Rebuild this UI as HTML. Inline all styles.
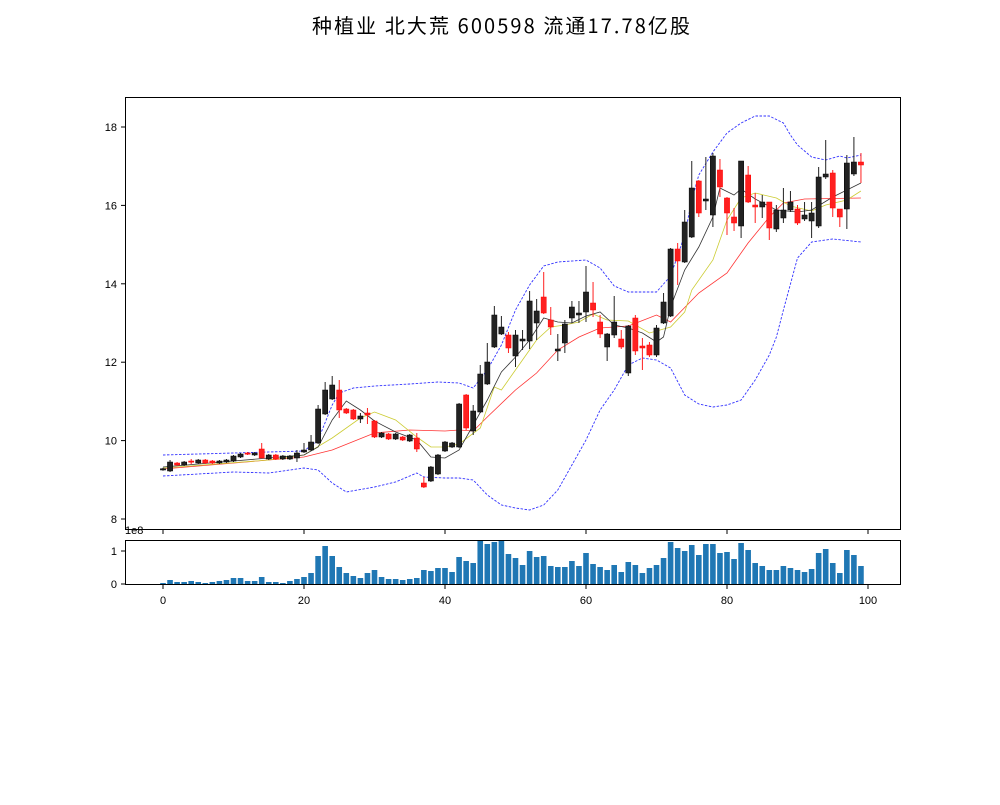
<!DOCTYPE html>
<html><head><meta charset="utf-8"><style>
html,body{margin:0;padding:0;background:#fff;}
svg text{font-family:"Liberation Sans","Noto Sans CJK SC",sans-serif;}
</style></head><body>
<svg id="s" width="1000" height="800" xmlns="http://www.w3.org/2000/svg">
<rect width="1000" height="800" fill="#fff"/>
<text x="312" y="33" font-size="20" fill="#000" textLength="378" lengthAdjust="spacing" style="font-family:'WenQuanYi Zen Hei','Noto Sans CJK SC',sans-serif">种植业 北大荒 600598 流通17.78亿股</text>
<g id="g"></g>
</svg>
<script>
var g=document.getElementById('g'),h='';
function X(i){return 163+i*7.05;}
var C=[
[468.7,470,467.7,470.7,'b'],[462,471,460,472,'b'],[463,465,462,466,'r'],[462,465,461,466,'b'],[461,462,459,464,'r'],
[460,463,459,464,'b'],[460,463,459,464,'r'],[461,463,460,464,'r'],[461,463,460,464,'b'],[460,462,459,463,'b'],
[456,461,455,462,'b'],[454,457,453,458,'b'],[453,454,452,455,'r'],[453,455,452,456,'b'],[449,458,443,458,'r'],
[455,459,454,460,'b'],[455,459,454,460,'r'],[456,459,455,460,'b'],[456,459,455,460,'b'],[453,458,450,462,'b'],
[450,452,443,453,'b'],[442,450,435,451,'b'],[409,443,405,444,'b'],[390,414,382,415,'b'],[385,399,376,400,'b'],
[390,410,380,418,'r'],[409,413,408,414,'r'],[410,419,409,420,'r'],[416,419,413,423,'b'],[413,415,408,424,'r'],
[421,437,420,438,'r'],[433,437,432,438,'b'],[434,439,433,440,'r'],[434,439,433,440,'b'],[437,440,436,441,'r'],
[435,441,434,442,'b'],[438,449,433,452,'r'],[483,487,477,488,'r'],[467,481,466,482,'b'],[455,474,454,475,'b'],
[442,451,441,452,'b'],[443,447,442,448,'b'],[404,447,403,448,'b'],[395,428,394,430,'r'],[411,431,405,435,'b'],
[374,412,365,413,'b'],[362,384,343,385,'b'],[315,347,306,348,'b'],[327,334,316,335,'b'],[335,348,332,353,'r'],
[335,356,330,367,'b'],[339,341,330,350,'b'],[301,341,291,349,'b'],[311,323,299,340,'b'],[297,313,272,314,'r'],
[320,327,307,335,'r'],[349,351,334,361,'b'],[324,343,320,353,'b'],[307,318,301,323,'b'],[313,315,301,323,'b'],
[292,312,266,322,'b'],[303,310,282,317,'r'],[322,334,315,338,'r'],[334,347,333,361,'b'],[322,335,296,338,'b'],
[339,347,330,349,'r'],[326,373,325,376,'b'],[318,351,315,355,'r'],[346,348,338,370,'r'],[345,355,342,357,'r'],
[328,355,325,357,'b'],[302,323,293,324,'b'],[249,316,248,317,'b'],[249,261,243,285,'r'],[222,262,210,263,'b'],
[188,237,161,238,'b'],[181,213,180,217,'r'],[199,201,157,210,'b'],[156,215,153,227,'b'],[170,187,159,197,'r'],
[198,213,197,235,'r'],[217,223,208,231,'r'],[161,226,161,238,'b'],[175,202,166,203,'r'],[205,207,193,223,'r'],
[202,207,195,218,'b'],[202,228,202,240,'r'],[210,229,205,232,'b'],[210,218,188,223,'b'],[202,210,191,212,'b'],
[209,223,205,225,'r'],[215,219,202,221,'b'],[213,221,202,238,'b'],[177,226,167,228,'b'],[174,177,140,179,'b'],
[173,208,170,217,'r'],[209,217,209,227,'r'],[163,209,155,229,'b'],[162,174,137,176,'b'],[162,165,153,183,'r']];
function pl(pts,col,w,dash){var s=pts.map(function(p){return X(p[0]).toFixed(1)+','+p[1];}).join(' ');
return '<polyline points="'+s+'" fill="none" stroke="'+col+'" stroke-width="'+w+'"'+(dash?' stroke-dasharray="'+dash+'"':'')+'/>';}
var up=[[0,455],[10,453],[20,451],[22,440],[24,405],[25,393],[27,388],[30,386],[35,384],[39,382],[42,383],[44,388],[46,370],[48,345],[50,310],[52,285],[54,266],[56,262],[60,260],[62,268],[64,286],[66,292],[70,292],[72,276],[74,235],[75,200],[76,175],[78,152],[80,133],[82,123],[84,116],[86,116],[88,123],[89,135],[90,145],[92,157],[94,160],[96,156],[97,158],[99,155]];
var lo=[[0,476],[10,472],[15,473],[20,468],[22,470],[24,483],[26,492],[30,487],[33,482],[36,473],[37,477],[40,478],[42,478],[44,480],[46,495],[48,505],[50,508],[52,510],[54,505],[56,490],[58,465],[60,440],[62,410],[64,390],[66,365],[68,358],[70,360],[72,368],[74,395],[76,404],[78,407],[80,405],[82,400],[84,380],[86,355],[87,337],[88,310],[90,258],[92,242],[95,239],[99,242]];
var m5=[[0,467],[10,461],[15,458],[20,455],[22,447],[24,420],[26,401],[28,410],[30,421],[33,432],[36,440],[38,457],[40,458],[42,450],[44,425],[46,400],[48,372],[50,357],[52,340],[54,318],[56,322],[58,323],[60,316],[62,312],[64,325],[66,328],[68,333],[70,342],[71,337],[72,307],[74,270],[76,247],[78,217],[79,188],[81,195],[82,189],[84,199],[87,210],[90,212],[92,210],[95,197],[97,190],[99,183]];
var m10=[[0,468],[15,460],[20,455],[24,438],[28,418],[30,412],[33,420],[36,437],[38,447],[40,447],[42,444],[45,428],[47,387],[48,390],[51,360],[53,340],[55,327],[57,325],[59,322],[61,314],[63,320],[66,321],[69,333],[72,327],[74,312],[75,290],[78,260],[80,220],[82,198],[84,193],[87,198],[89,206],[92,211],[94,205],[97,200],[99,191]];
var m20=[[0,469],[20,457],[24,450],[30,433],[35,430],[40,431],[42,430],[44,431],[46,417],[50,390],[53,373],[56,350],[59,337],[62,328],[66,326],[70,315],[72,322],[76,293],[80,273],[83,243],[86,217],[88,203],[91,199],[99,198]];
h+=pl(up,'#3333ff',0.9,'2.5,1.5')+pl(lo,'#3333ff',0.9,'2.5,1.5');
h+=pl(m20,'#ff3333',0.8)+pl(m10,'#cccc33',0.8)+pl(m5,'#333',0.8);
C.forEach(function(c,i){var x=X(i),col=c[4]=='b'?'#222':'#ff2020';
h+='<line x1="'+x+'" x2="'+x+'" y1="'+c[2]+'" y2="'+c[3]+'" stroke="'+col+'" stroke-width="1"/>';
var hh=Math.max(c[1]-c[0],1.2);
h+='<rect x="'+(x-2.6)+'" y="'+c[0]+'" width="5.2" height="'+hh+'" fill="'+col+'" stroke="'+(c[4]=='b'?'#000':'#ff0000')+'" stroke-width="0.5"/>';});
var v1=[144,135,141,141,138,141,144,141,138,135,129,129,138,138,126,141,141,144,138,132,126,114,63,33,63,96,114,123,129,114,105,126,132,132,135,132,129,105,108,99,99,111,66,78,84,18,27,21,18,57];
var v2=[69,90,48,66,63,93,96,96,78,93,54,87,96,105,90,111,81,90,114,99,90,69,21,39,48,30,60,27,27,54,51,72,24,45,84,93,105,105,93,99,105,111,102,54,42,84,114,45,60,93];
v1.concat(v2).forEach(function(t,i){var hh=(150-t)/3;h+='<rect x="'+(X(i)-2.8)+'" y="'+(585-hh)+'" width="5.6" height="'+hh+'" fill="#1f77b4"/>';});
h+='<rect x="125.5" y="97.5" width="775" height="432" fill="none" stroke="#000" stroke-width="1"/>';
h+='<rect x="125.5" y="540.5" width="775" height="44" fill="none" stroke="#000" stroke-width="1"/>';
[[18,127],[16,205.4],[14,283.8],[12,362.2],[10,440.6],[8,519]].forEach(function(t){
h+='<line x1="121" x2="125" y1="'+t[1]+'" y2="'+t[1]+'" stroke="#000"/><text x="117" y="'+(t[1]+4)+'" font-size="11" text-anchor="end">'+t[0]+'</text>';});
[[1,551],[0,584]].forEach(function(t){
h+='<line x1="121" x2="125" y1="'+t[1]+'" y2="'+t[1]+'" stroke="#000"/><text x="117" y="'+(t[1]+4)+'" font-size="11" text-anchor="end">'+t[0]+'</text>';});
h+='<text x="125" y="534" font-size="11">1e8</text>';
[0,20,40,60,80,100].forEach(function(v){var x=X(v);
h+='<line x1="'+x+'" x2="'+x+'" y1="530" y2="534" stroke="#000"/><line x1="'+x+'" x2="'+x+'" y1="585" y2="589" stroke="#000"/><text x="'+x+'" y="604" font-size="11" text-anchor="middle">'+v+'</text>';});
g.innerHTML=h;
</script>
</body></html>
